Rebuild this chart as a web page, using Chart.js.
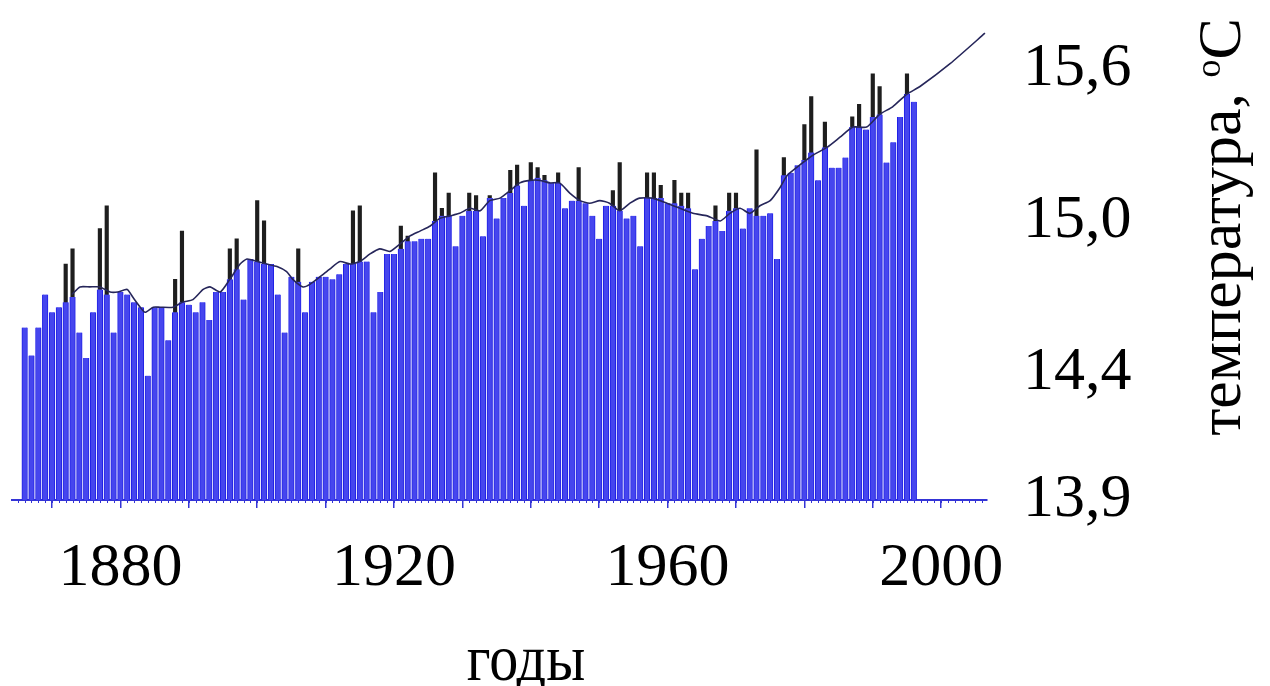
<!DOCTYPE html>
<html>
<head>
<meta charset="utf-8">
<script src="https://cdn.jsdelivr.net/npm/chart.js@4.4.1/dist/chart.umd.min.js"></script>
<style>
html,body{margin:0;padding:0;background:#fff;overflow:hidden}
#wrap{width:1270px;height:686px;position:relative}
</style>
</head>
<body>
<div id="wrap"><canvas id="c" width="1270" height="686"></canvas></div>
<script>
// ---- data ----
const firstYear = 1866;
const lastYear = 1996;
const years = [];
for (let y = firstYear; y <= lastYear; y++) years.push(y);

// annual mean temperature (blue bars), 1866..1996
const blueValues = [
  14.58, 14.47, 14.58, 14.71,
  14.64, 14.66, 14.68, 14.70, 14.56, 14.46, 14.64, 14.73, 14.71, 14.56,
  14.72, 14.71, 14.68, 14.66, 14.39, 14.66, 14.66, 14.53, 14.64, 14.68,
  14.67, 14.64, 14.68, 14.61, 14.72, 14.72, 14.77, 14.81, 14.69, 14.85,
  14.84, 14.83, 14.83, 14.71, 14.56, 14.78, 14.76, 14.64, 14.76, 14.78,
  14.78, 14.77, 14.79, 14.83, 14.83, 14.84, 14.84, 14.64, 14.72, 14.87,
  14.87, 14.89, 14.92, 14.92, 14.93, 14.93, 15.00, 15.02, 15.02, 14.90,
  15.02, 15.04, 15.04, 14.94, 15.09, 15.01, 15.09, 15.11, 15.14, 15.06,
  15.16, 15.17, 15.16, 15.15, 15.15, 15.05, 15.08, 15.08, 15.07, 15.02,
  14.93, 15.06, 15.06, 15.04, 15.01, 15.02, 14.90, 15.09, 15.09, 15.09,
  15.07, 15.07, 15.06, 15.05, 14.81, 14.93, 14.98, 15.00, 14.96, 15.04,
  15.05, 14.97, 15.05, 15.02, 15.02, 15.03, 14.85, 15.18, 15.19, 15.22,
  15.24, 15.27, 15.16, 15.29, 15.21, 15.21, 15.25, 15.37, 15.37, 15.36,
  15.41, 15.42, 15.23, 15.31, 15.41, 15.50, 15.47
];

// second series (dark bars), only years where it rises above the blue bar
const blackYears = [
  1872, 1873, 1877, 1878, 1888, 1889, 1896, 1897, 1900, 1901, 1906,
  1914, 1915, 1921, 1922, 1926, 1927, 1928, 1931, 1932, 1934, 1937, 1938,
  1940, 1941, 1942, 1944, 1947, 1952, 1953, 1957, 1958, 1959, 1961, 1962,
  1963, 1967, 1969, 1970, 1973, 1977, 1980, 1981, 1983, 1987, 1988, 1990,
  1991, 1995
];
const blackValues = [
  14.83, 14.89, 14.97, 15.06, 14.77, 14.96, 14.89, 14.93, 15.08, 15.00, 14.89,
  15.04, 15.06, 14.98, 14.94, 15.19, 15.05, 15.11, 15.11, 15.10, 15.10, 15.20, 15.22,
  15.23, 15.21, 15.18, 15.19, 15.21, 15.12, 15.23, 15.19, 15.19, 15.14, 15.16, 15.11,
  15.11, 15.06, 15.11, 15.11, 15.28, 15.25, 15.38, 15.49, 15.39, 15.41, 15.46, 15.58,
  15.53, 15.58
];

// smoothed curve with extrapolation
const trendYears = [
  1872.9, 1874.1, 1875.5, 1877.0, 1878.5, 1879.6, 1881.0, 1881.8, 1882.9, 1883.6,
  1884.8, 1885.8, 1887.7, 1889.1, 1890.6, 1892.1, 1893.1, 1894.6, 1896.0, 1897.5,
  1898.5, 1900.0, 1901.4, 1902.9, 1904.3, 1905.2, 1906.7, 1907.7, 1909.2, 1910.6,
  1912.1, 1913.6, 1915.0, 1916.5, 1917.9, 1919.4, 1920.9, 1922.3, 1923.8, 1925.3,
  1926.7, 1928.2, 1929.6, 1931.1, 1932.6, 1934.0, 1935.5, 1937.0, 1938.4, 1939.9,
  1941.3, 1942.8, 1944.2, 1945.7, 1947.2, 1948.6, 1950.1, 1951.5, 1953.0, 1954.5,
  1955.9, 1957.8, 1959.9, 1961.8, 1963.7, 1965.8, 1967.7, 1969.1, 1970.6, 1972.0,
  1973.5, 1975.0, 1976.4, 1977.5, 1979.3, 1981.3, 1983.3, 1985.2, 1987.1, 1989.1,
  1991.0, 1992.9, 1995.0, 1996.9, 2001.3, 2006.4
];
const trendValues = [
  14.71, 14.74, 14.74, 14.74, 14.72, 14.72, 14.73, 14.70, 14.66, 14.64,
  14.66, 14.66, 14.66, 14.68, 14.69, 14.73, 14.74, 14.72, 14.77, 14.83,
  14.85, 14.84, 14.83, 14.82, 14.80, 14.77, 14.74, 14.75, 14.78, 14.81,
  14.84, 14.83, 14.84, 14.87, 14.89, 14.88, 14.91, 14.94, 14.96, 14.98,
  15.01, 15.02, 15.03, 15.05, 15.04, 15.08, 15.09, 15.12, 15.15, 15.16,
  15.16, 15.15, 15.15, 15.11, 15.08, 15.07, 15.08, 15.07, 15.04, 15.07,
  15.09, 15.09, 15.07, 15.05, 15.03, 15.02, 15.00, 15.03, 15.05, 15.03,
  15.06, 15.08, 15.13, 15.18, 15.22, 15.26, 15.29, 15.33, 15.37, 15.37,
  15.42, 15.45, 15.50, 15.53, 15.62, 15.74
];

const xTickYears = [1870, 1880, 1890, 1900, 1910, 1920, 1930, 1940, 1950, 1960, 1970, 1980, 1990, 2000];
const xLabelYears = [1880, 1920, 1960, 2000];
const yTickValues = [13.9, 14.4, 15.0, 15.6];
const xTitle = 'годы';
const yTitle = 'температура, ';
const yTitleSup = 'o';
const yTitleUnit = 'C';

// ---- chart ----
const FONT = '"Liberation Serif", "Times New Roman", serif';
const AXIS_BLUE = '#3434d6';

const extras = {
  id: 'extras',
  afterDraw(chart) {
    const ctx = chart.ctx;
    const xs = chart.scales.x;
    const ca = chart.chartArea;
    ctx.save();
    // minor yearly ticks
    ctx.strokeStyle = AXIS_BLUE;
    ctx.lineWidth = 1;
    for (let y = Math.ceil(xs.min); y <= Math.floor(xs.max); y++) {
      const px = Math.round(xs.getPixelForValue(y)) + 0.5;
      ctx.beginPath();
      ctx.moveTo(px, ca.bottom);
      ctx.lineTo(px, ca.bottom + 3);
      ctx.stroke();
    }
    ctx.restore();

    // x title
    ctx.save();
    ctx.fillStyle = '#000';
    ctx.font = '66px ' + FONT;
    ctx.textAlign = 'center';
    ctx.textBaseline = 'alphabetic';
    ctx.translate(526, 680);
    ctx.scale(0.88, 1);
    ctx.fillText(xTitle, 0, 0);
    ctx.restore();

    // y title, rotated, reading bottom to top
    ctx.save();
    ctx.fillStyle = '#000';
    ctx.translate(1240, 227);
    ctx.rotate(-Math.PI / 2);
    ctx.textBaseline = 'alphabetic';
    ctx.textAlign = 'left';
    ctx.font = '62px ' + FONT;
    const w1 = ctx.measureText(yTitle).width;
    const w3 = ctx.measureText(yTitleUnit).width;
    ctx.font = '36px ' + FONT;
    const w2 = ctx.measureText(yTitleSup).width;
    const total = w1 + w2 + w3;
    let x0 = -total / 2;
    ctx.font = '62px ' + FONT;
    ctx.fillText(yTitle, x0, 0);
    ctx.font = '36px ' + FONT;
    ctx.fillText(yTitleSup, x0 + w1, -20);
    ctx.font = '62px ' + FONT;
    ctx.fillText(yTitleUnit, x0 + w1 + w2, 0);
    ctx.restore();
  }
};

new Chart(document.getElementById('c'), {
  type: 'bar',
  data: {
    datasets: [
      {
        type: 'line',
        label: 'trend',
        data: trendYears.map((y, i) => ({ x: y, y: trendValues[i] })),
        borderColor: '#26265a',
        borderWidth: 1.6,
        pointRadius: 0,
        tension: 0.2,
        fill: false,
        order: 1
      },
      {
        label: 'blue',
        data: years.map((y, i) => ({ x: y, y: blueValues[i] })),
        backgroundColor: '#4646ee',
        borderColor: '#2020e6',
        borderWidth: { left: 1, right: 1, top: 0, bottom: 0 },
        borderSkipped: false,
        barThickness: 5.6,
        grouped: false,
        order: 2
      },
      {
        label: 'black',
        data: blackYears.map((y, i) => ({ x: y, y: blackValues[i] })),
        backgroundColor: '#1e1e1e',
        borderWidth: 0,
        barThickness: 3.5,
        grouped: false,
        order: 3
      }
    ]
  },
  options: {
    responsive: false,
    animation: false,
    devicePixelRatio: 1,
    layout: { padding: { left: 12, top: 18, right: 0, bottom: 0 } },
    plugins: { legend: { display: false }, tooltip: { enabled: false } },
    scales: {
      x: {
        type: 'linear',
        position: 'bottom',
        min: 1864.15,
        max: 2006.7,
        offset: false,
        afterBuildTicks: s => { s.ticks = xTickYears.map(v => ({ value: v })); },
        afterFit: s => { s.height = 186; s.paddingLeft = 0; s.paddingRight = 0; },
        grid: { display: true, offset: false, drawOnChartArea: false, drawTicks: true, tickLength: 8, color: AXIS_BLUE, lineWidth: 1.5 },
        border: { display: true, color: AXIS_BLUE, width: 2 },
        ticks: {
          autoSkip: false, maxRotation: 0, minRotation: 0, padding: 24, color: '#000',
          font: { family: FONT, size: 62, lineHeight: 1.2 },
          callback: v => xLabelYears.includes(v) ? String(v) : ''
        }
      },
      y: {
        type: 'linear',
        position: 'right',
        min: 13.9,
        max: 15.8,
        afterBuildTicks: s => { s.ticks = yTickValues.map(v => ({ value: v })); },
        afterFit: s => { s.width = 283; s.paddingTop = 0; s.paddingBottom = 0; },
        grid: { display: false, drawTicks: false },
        border: { display: false },
        ticks: {
          padding: 36, color: '#000',
          font: { family: FONT, size: 62, lineHeight: 1.2 },
          callback: v => Number(v).toFixed(1).replace('.', ',')
        }
      }
    }
  },
  plugins: [extras]
});
</script>
</body>
</html>
